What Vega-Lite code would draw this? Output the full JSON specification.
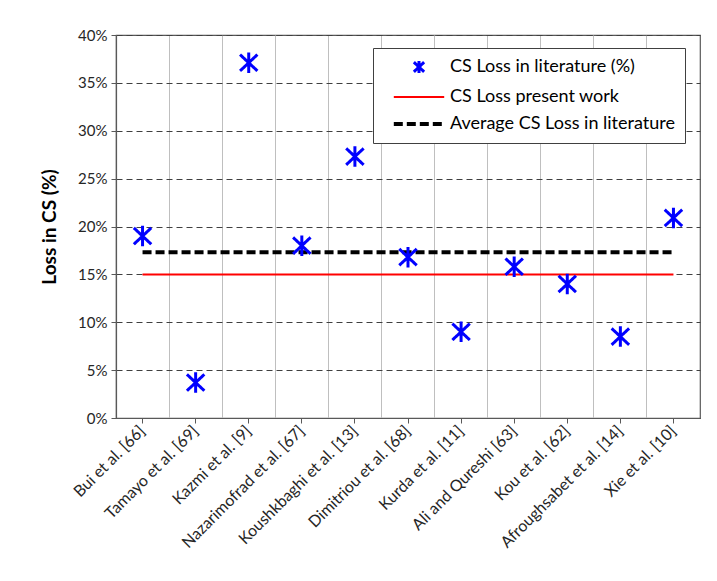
{
  "$schema": "https://vega.github.io/schema/vega-lite/v6.json",
  "width": 584,
  "height": 383,
  "autosize": "none",
  "padding": {"left": 116, "top": 35, "right": 17, "bottom": 163},
  "background": "white",
  "config": {
    "font": "Lato",
    "view": {"stroke": "#595959", "strokeWidth": 1.2}
  },
  "data": {
    "values": [
      {"study": "Bui et al. [66]", "loss": 19.0, "present": 15, "avg": 17.3},
      {"study": "Tamayo et al. [69]", "loss": 3.7, "present": 15, "avg": 17.3},
      {"study": "Kazmi et al. [9]", "loss": 37.1, "present": 15, "avg": 17.3},
      {"study": "Nazarimofrad et al. [67]", "loss": 18.0, "present": 15, "avg": 17.3},
      {"study": "Koushkbaghi et al. [13]", "loss": 27.3, "present": 15, "avg": 17.3},
      {"study": "Dimitriou et al. [68]", "loss": 16.8, "present": 15, "avg": 17.3},
      {"study": "Kurda et al. [11]", "loss": 9.0, "present": 15, "avg": 17.3},
      {"study": "Ali and Qureshi [63]", "loss": 15.8, "present": 15, "avg": 17.3},
      {"study": "Kou et al. [62]", "loss": 14.0, "present": 15, "avg": 17.3},
      {"study": "Afroughsabet et al. [14]", "loss": 8.5, "present": 15, "avg": 17.3},
      {"study": "Xie et al. [10]", "loss": 20.9, "present": 15, "avg": 17.3}
    ]
  },
  "layer": [
    {
      "mark": {"type": "line", "color": "#ff0000", "strokeWidth": 2},
      "encoding": {
        "x": {
          "field": "study", "type": "nominal", "sort": null,
          "scale": {"type": "band", "paddingInner": 0, "paddingOuter": 0},
          "axis": {
            "title": null, "labels": false, "ticks": false, "domain": false,
            "grid": true, "bandPosition": 0, "gridColor": "#bfbfbf", "gridWidth": 1,
            "orient": "bottom"
          }
        },
        "y": {
          "field": "present", "type": "quantitative",
          "scale": {"domain": [0, 40], "nice": false},
          "axis": {
            "title": "Loss in CS (%)",
            "titleFont": "Lato", "titleFontSize": 19, "titleFontWeight": "bold", "titleColor": "#000000",
            "titlePadding": 18,
            "values": [0, 5, 10, 15, 20, 25, 30, 35, 40],
            "labelExpr": "datum.value + '%'",
            "labelFont": "Lato", "labelFontSize": 15, "labelColor": "#262626", "labelPadding": 4,
            "tickColor": "#595959", "tickSize": 5,
            "domainColor": "#595959", "domainWidth": 1.2,
            "grid": true, "gridDash": [6, 4], "gridColor": "#404040", "gridWidth": 1
          }
        }
      }
    },
    {
      "mark": {"type": "line", "color": "#000000", "strokeWidth": 4, "strokeDash": [9, 4]},
      "encoding": {
        "x": {"field": "study", "type": "nominal", "sort": null, "axis": null},
        "y": {"field": "avg", "type": "quantitative"}
      }
    },
    {
      "mark": {"type": "point", "filled": false, "size": 420, "opacity": 1},
      "encoding": {
        "x": {
          "field": "study", "type": "nominal", "sort": null,
          "axis": {
            "title": null, "grid": false, "bandPosition": 0.5, "orient": "bottom",
            "labelAngle": -45, "labelAlign": "right", "labelBaseline": "middle",
            "labelFont": "Lato", "labelFontSize": 16, "labelColor": "#262626", "labelPadding": 5,
            "tickColor": "#595959", "tickSize": 5,
            "domainColor": "#595959", "domainWidth": 1.2
          }
        },
        "y": {"field": "loss", "type": "quantitative"},
        "color": {
          "datum": "CS Loss in literature (%)",
          "scale": {
            "domain": ["CS Loss in literature (%)", "CS Loss present work", "Average CS Loss in literature"],
            "range": ["#0000ff", "#ff0000", "#000000"]
          }
        },
        "strokeDash": {
          "datum": "CS Loss in literature (%)",
          "scale": {
            "domain": ["CS Loss in literature (%)", "CS Loss present work", "Average CS Loss in literature"],
            "range": [[1, 0], [1, 0], [9, 4]]
          }
        },
        "strokeWidth": {
          "datum": "CS Loss in literature (%)",
          "scale": {
            "type": "ordinal",
            "domain": ["CS Loss in literature (%)", "CS Loss present work", "Average CS Loss in literature"],
            "range": [3, 2, 4]
          }
        },
        "shape": {
          "datum": "CS Loss in literature (%)",
          "scale": {
            "domain": ["CS Loss in literature (%)", "CS Loss present work", "Average CS Loss in literature"],
            "range": [
              "M0,-1L0,1M-0.85,-0.8L0.85,0.8M-0.85,0.8L0.85,-0.8",
              "M-4.2,0L4.2,0",
              "M-4.2,0L4.2,0"
            ]
          },
          "legend": {
            "title": null,
            "orient": "none", "legendX": 257, "legendY": 13,
            "direction": "vertical",
            "strokeColor": "#404040", "fillColor": "white",
            "padding": 10,
            "symbolSize": 144,
            "symbolOffset": 27,
            "labelOffset": 22,
            "rowPadding": 9,
            "labelFont": "Lato", "labelFontSize": 18, "labelColor": "#000000",
            "labelLimit": 400,
            "encode": {
              "symbols": {
                "update": {
                  "fill": {"value": "transparent"},
                  "opacity": {"value": 1}
                }
              }
            }
          }
        }
      }
    }
  ],
  "resolve": {"axis": {"x": "independent"}}
}
